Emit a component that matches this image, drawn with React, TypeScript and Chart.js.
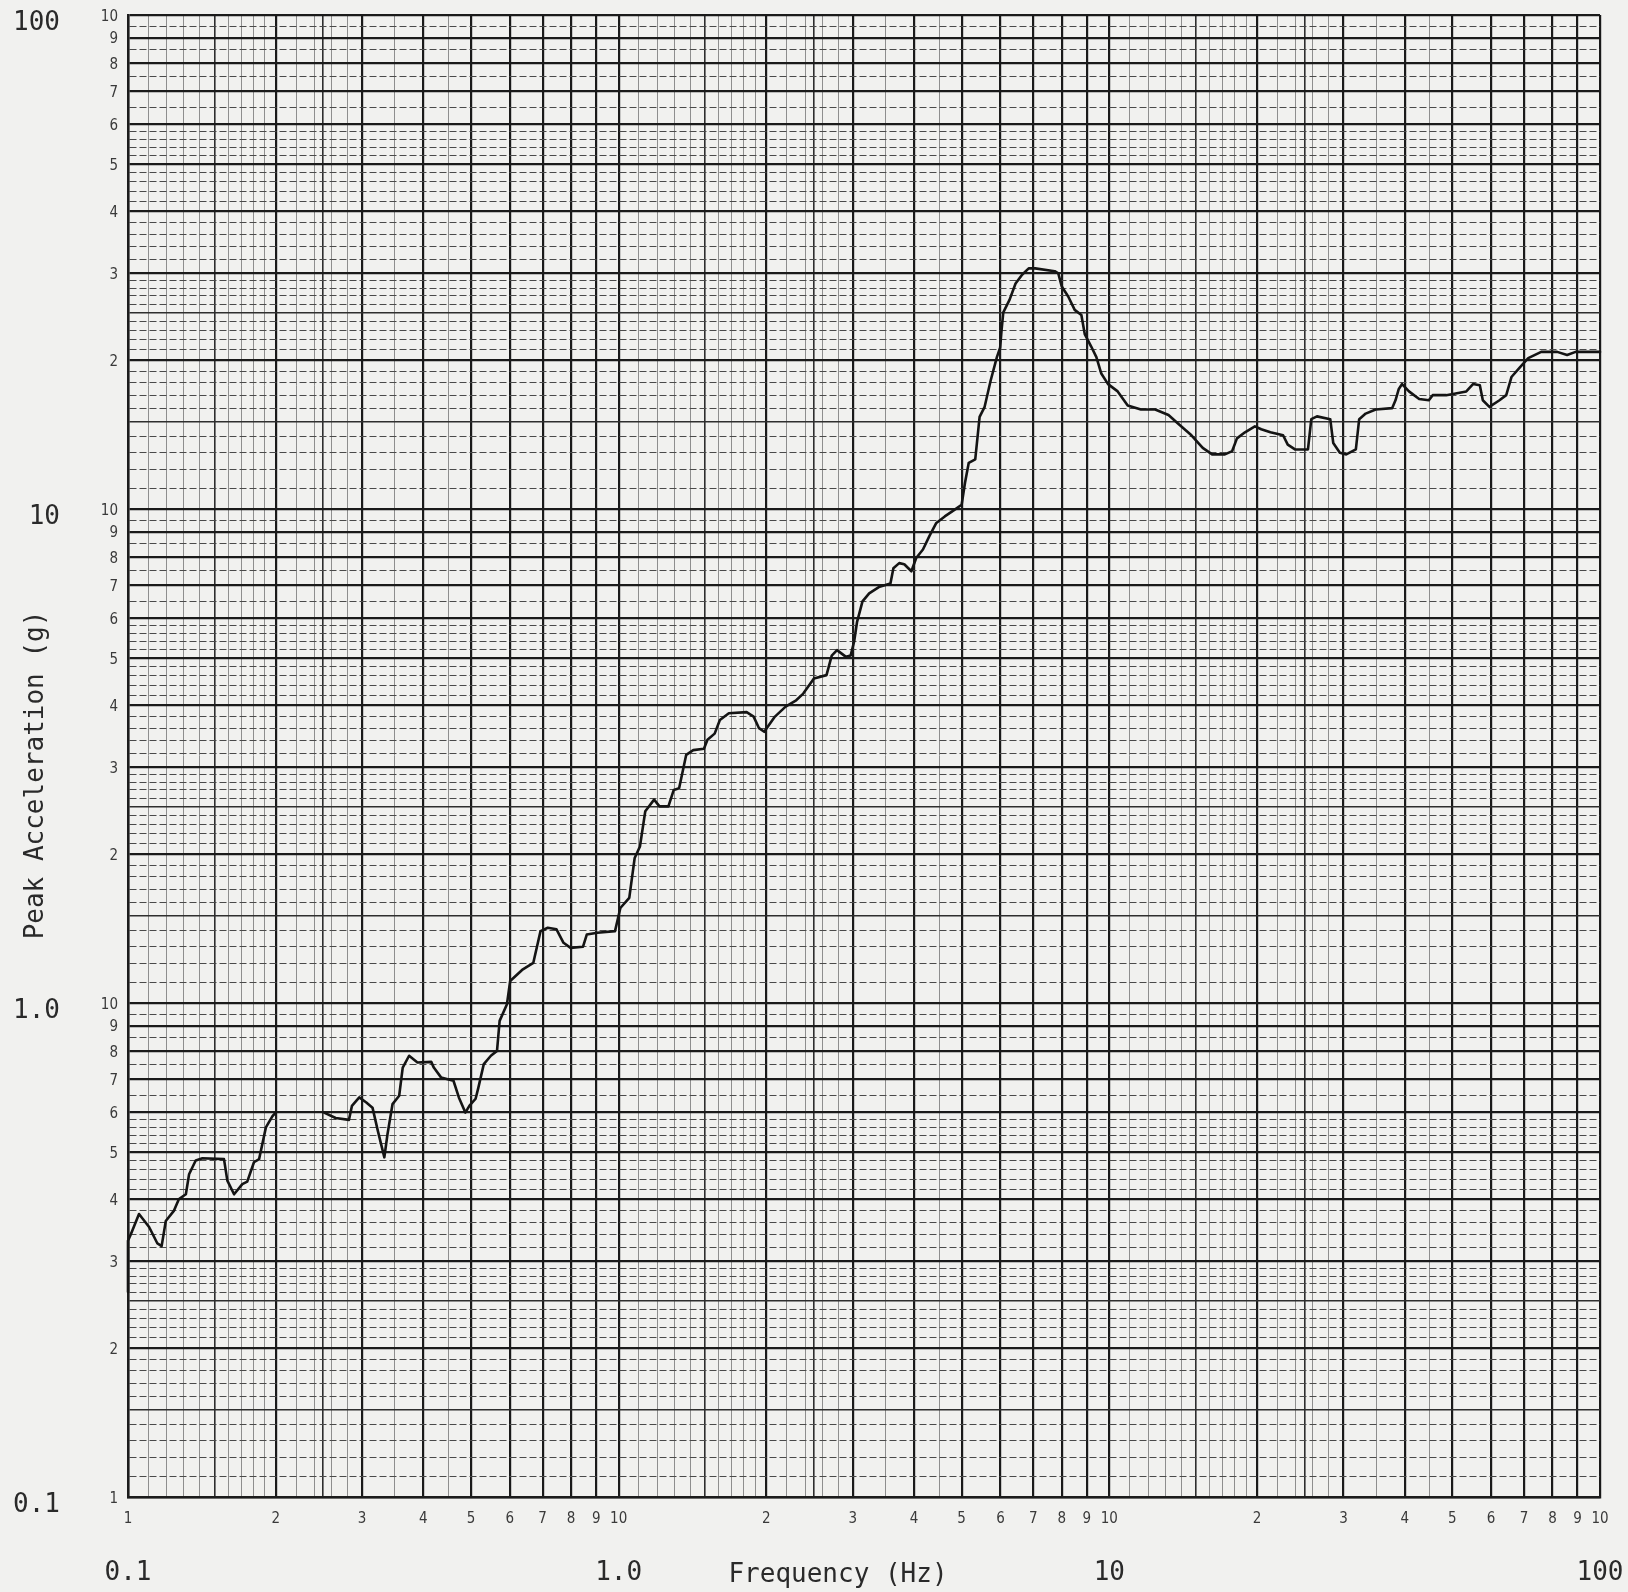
import React, { useEffect, useRef } from "react";
import { Chart, registerables } from "chart.js";

Chart.register(...registerables);

// ---- data (frequency in Hz, peak acceleration in g) ----
const freqHz: number[] = [
  0.1, 0.1, 0.1013, 0.1053, 0.1104, 0.1148, 0.1171, 0.1194, 0.1241, 0.127,
  0.1312, 0.1332, 0.1374, 0.1418, 0.1569, 0.1594, 0.1645, 0.171, 0.175, 0.1806,
  0.185, 0.1879, 0.191, 0.197, 0.2, 0.225, 0.251, 0.265, 0.282, 0.286,
  0.296, 0.306, 0.315, 0.323, 0.333, 0.338, 0.346, 0.357, 0.363, 0.374,
  0.389, 0.415, 0.42, 0.4345, 0.4606, 0.4724, 0.487, 0.4966, 0.511, 0.5177,
  0.531, 0.549, 0.565, 0.572, 0.592, 0.601, 0.638, 0.67, 0.693, 0.717,
  0.747, 0.772, 0.798, 0.846, 0.861, 0.905, 0.983, 1.008, 1.051, 1.078,
  1.105, 1.133, 1.181, 1.211, 1.263, 1.295, 1.328, 1.373, 1.419, 1.492,
  1.517, 1.569, 1.608, 1.677, 1.823, 1.884, 1.932, 1.98, 2.082, 2.189,
  2.3, 2.378, 2.5, 2.652, 2.718, 2.786, 2.906, 2.97, 3.02, 3.06,
  3.14, 3.24, 3.39, 3.58, 3.63, 3.73, 3.82, 3.95, 4.04, 4.17,
  4.3, 4.44, 4.62, 4.85, 5.0, 5.08, 5.17, 5.33, 5.44, 5.57,
  5.73, 5.9, 5.99, 6.03, 6.08, 6.26, 6.44, 6.64, 6.85, 7.06,
  7.74, 7.87, 8.0, 8.25, 8.5, 8.77, 8.91, 9.19, 9.41, 9.63,
  9.94, 10.4, 10.9, 11.6, 12.4, 13.2, 13.8, 14.7, 15.5, 16.2,
  17.2, 17.8, 18.2, 18.9, 19.8, 20.4, 21.3, 22.6, 23.1, 23.9,
  25.4, 25.8, 26.5, 28.2, 28.6, 29.5, 30.4, 31.8, 32.3, 33.3,
  34.9, 37.7, 38.3, 38.9, 39.5, 40.8, 42.8, 44.8, 45.6, 48.6,
  53.4, 55.1, 56.9, 57.7, 59.5, 62.4, 64.4, 66.0, 68.8, 71.4,
  75.9, 81.8, 85.7, 89.2, 100, 108,
];
const peakAccelG: (number | null)[] = [
  0.26, 0.33, 0.34, 0.374, 0.352, 0.326, 0.322, 0.362, 0.38, 0.401,
  0.41, 0.45, 0.48, 0.485, 0.483, 0.437, 0.41, 0.43, 0.435, 0.476,
  0.483, 0.519, 0.56, 0.59, 0.6, null, 0.6, 0.585, 0.58, 0.619,
  0.644, 0.629, 0.614, 0.551, 0.487, 0.543, 0.624, 0.649, 0.74, 0.782,
  0.758, 0.76, 0.74, 0.707, 0.696, 0.644, 0.6, 0.62, 0.64, 0.674,
  0.752, 0.782, 0.8, 0.92, 0.994, 1.108, 1.17, 1.206, 1.398, 1.42,
  1.41, 1.324, 1.293, 1.3, 1.376, 1.387, 1.398, 1.557, 1.632, 1.966,
  2.074, 2.444, 2.58, 2.5, 2.5, 2.7, 2.72, 3.18, 3.25, 3.27,
  3.41, 3.51, 3.74, 3.86, 3.88, 3.8, 3.6, 3.54, 3.8, 3.98,
  4.1, 4.23, 4.54, 4.61, 5.05, 5.18, 5.02, 5.05, 5.4, 5.9,
  6.5, 6.75, 6.95, 7.07, 7.59, 7.77, 7.73, 7.48, 7.96, 8.28,
  8.82, 9.37, 9.66, 9.98, 10.2, 11.3, 12.4, 12.6, 15.36, 16.1,
  18.2, 20.3, 21.2, 23.0, 25.0, 26.5, 28.6, 29.8, 30.7, 30.7,
  30.3, 30.0, 28.2, 26.9, 25.3, 24.7, 22.6, 21.3, 20.3, 18.8,
  17.9, 17.3, 16.2, 15.9, 15.9, 15.5, 14.9, 14.1, 13.3, 12.9,
  12.9, 13.1, 13.9, 14.3, 14.7, 14.5, 14.3, 14.1, 13.5, 13.2,
  13.2, 15.2, 15.4, 15.2, 13.6, 13.0, 12.9, 13.2, 15.2, 15.6,
  15.9, 16.0, 16.6, 17.5, 17.9, 17.3, 16.7, 16.6, 17.0, 17.0,
  17.3, 17.9, 17.8, 16.6, 16.1, 16.6, 17.0, 18.5, 19.4, 20.2,
  20.8, 20.8, 20.5, 20.8, 20.8, 20.8,
];

// ---- graph paper rulings (mantissas within one decade) ----
const decadeStarts: number[] = [0.1, 1, 10];
const axisMin = 0.1;
const axisMax = 100;
const rowMantissas: number[] = [
  1, 1.1, 1.2, 1.3, 1.4, 1.5, 1.6, 1.7, 1.8, 1.9,
  2, 2.1, 2.2, 2.3, 2.4, 2.5, 2.6, 2.7, 2.8, 2.9,
  3, 3.2, 3.4, 3.6, 3.8, 4, 4.2, 4.4, 4.6, 4.8,
  5, 5.2, 5.4, 5.6, 5.8, 6, 6.5, 7, 7.5, 8, 8.5, 9, 9.5,
];
const colMantissas: number[] = [
  1, 1.1, 1.2, 1.3, 1.4, 1.5, 1.6, 1.7, 1.8, 1.9,
  2, 2.2, 2.4, 2.5, 2.6, 2.8, 3, 3.5, 4, 4.5, 5, 6, 7, 8, 9,
];
const mediumMantissas: number[] = [1.5, 2.5];
const decadeLabelValues: number[] = [0.1, 1, 10, 100];
const decadeLabelsX: string[] = ["0.1", "1.0", "10", "100"];
const decadeLabelsY: string[] = ["0.1", "1.0", "10", "100"];
const xTitle = "Frequency (Hz)";
const yTitle = "Peak Acceleration (g)";

const round6 = (v: number) => Number(v.toPrecision(6));

function buildRulings(mantissas: number[]): number[] {
  const out: number[] = [];
  decadeStarts.forEach((d) => mantissas.forEach((m) => out.push(round6(m * d))));
  out.push(axisMax);
  return out;
}

function mantissaOf(v: number): number {
  const e = Math.floor(Math.log10(v) + 1e-9);
  return round6(v / Math.pow(10, e));
}

function smallLabel(v: number): string {
  const m = mantissaOf(v);
  if (Math.abs(m - Math.round(m)) > 1e-6) return "";
  if (m === 1) return Math.abs(v - axisMin) < 1e-9 ? "1" : "10";
  return String(Math.round(m));
}

type Weight = "heavy" | "medium" | "light";
function weightOf(v: number): Weight {
  const m = mantissaOf(v);
  if (Math.abs(m - Math.round(m)) < 1e-6) return "heavy";
  if (mediumMantissas.some((x) => Math.abs(x - m) < 1e-6)) return "medium";
  return "light";
}

const SMALL_FONT = '"DejaVu Sans Condensed", "Liberation Sans Narrow", "DejaVu Sans", sans-serif';
const BIG_FONT = '"DejaVu Sans Mono", "Liberation Mono", monospace';
const INK = "#1c1c1c";
const PAPER = "#f1f1ef";

const zeroPadding = (s: any) => {
  s.paddingLeft = 0;
  s.paddingRight = 0;
  s.paddingTop = 0;
  s.paddingBottom = 0;
};

function rulingAxis(values: number[], light: { color: string; width: number; dash: number[] }, extra: any) {
  return {
    type: "logarithmic",
    min: axisMin,
    max: axisMax,
    afterBuildTicks: (scale: any) => {
      scale.ticks = values.map((v) => ({ value: v }));
    },
    grid: {
      drawTicks: false,
      color: (ctx: any) => {
        if (!ctx.tick) return INK;
        const w = weightOf(ctx.tick.value);
        return w === "heavy" ? "#1a1a1a" : w === "medium" ? "#2e2e2e" : light.color;
      },
      lineWidth: (ctx: any) => {
        if (!ctx.tick) return 2;
        const w = weightOf(ctx.tick.value);
        return w === "heavy" ? 2.2 : w === "medium" ? 1.6 : light.width;
      },
    },
    border: {
      display: true,
      color: INK,
      width: 2.5,
      dash: (ctx: any) => {
        if (!ctx.tick) return [];
        return weightOf(ctx.tick.value) === "light" ? light.dash : [];
      },
    },
    ...extra,
  };
}

function decadeAxis(extra: any) {
  return {
    type: "logarithmic",
    min: axisMin,
    max: axisMax,
    afterBuildTicks: (scale: any) => {
      scale.ticks = decadeLabelValues.map((v) => ({ value: v }));
    },
    grid: { display: false, drawTicks: false, drawOnChartArea: false },
    border: { display: false },
    ...extra,
  };
}

const paperPlugin = {
  id: "paper",
  beforeDraw(chart: any) {
    const { ctx, width, height } = chart;
    ctx.save();
    ctx.fillStyle = PAPER;
    ctx.fillRect(0, 0, width, height);
    ctx.restore();
  },
};

const titlesPlugin = {
  id: "titles",
  afterDraw(chart: any) {
    const { ctx } = chart;
    ctx.save();
    ctx.font = `26px ${BIG_FONT}`;
    ctx.fillStyle = "#2a2a2a";
    ctx.textAlign = "center";
    ctx.textBaseline = "middle";
    ctx.fillText(xTitle, 838, 1575);
    ctx.translate(36, 775);
    ctx.rotate(-Math.PI / 2);
    ctx.fillText(yTitle, 0, 0);
    ctx.restore();
  },
};

const decadeLabel = (labels: string[]) => (value: any) => {
  const i = decadeLabelValues.findIndex((d) => Math.abs(d - Number(value)) < 1e-9);
  return i >= 0 ? labels[i] : "";
};

export default function App() {
  const ref = useRef<HTMLCanvasElement | null>(null);

  useEffect(() => {
    const canvas = ref.current;
    if (!canvas) return;
    const points = freqHz.map((f, i) => ({ x: f, y: peakAccelG[i] }));
    const chart = new Chart(canvas, {
      type: "scatter",
      data: {
        datasets: [
          {
            data: points as any,
            showLine: true,
            borderColor: "#141414",
            borderWidth: 2.6,
            pointRadius: 0,
            pointHoverRadius: 0,
            tension: 0,
            spanGaps: false,
            clip: false as any,
            borderJoinStyle: "round",
            borderCapStyle: "round",
          } as any,
        ],
      },
      options: {
        animation: false,
        responsive: false,
        maintainAspectRatio: false,
        events: [],
        layout: { padding: { left: 0, top: 15, right: 28, bottom: 0 } },
        plugins: {
          legend: { display: false },
          tooltip: { enabled: false },
          title: { display: false },
        },
        scales: {
          x: rulingAxis(buildRulings(colMantissas), { color: "#8e8e8e", width: 1, dash: [] }, {
            position: "bottom",
            weight: 0,
            afterFit: (s: any) => {
              s.height = 35;
              zeroPadding(s);
            },
            ticks: {
              autoSkip: false,
              maxRotation: 0,
              minRotation: 0,
              padding: 13,
              color: "#3a3a3a",
              font: { family: SMALL_FONT, size: 15 },
              callback: (value: any) => smallLabel(Number(value)),
            },
          }),
          x2: decadeAxis({
            position: "bottom",
            axis: "x",
            weight: 1,
            afterFit: (s: any) => {
              s.height = 60;
              zeroPadding(s);
            },
            ticks: {
              autoSkip: false,
              maxRotation: 0,
              minRotation: 0,
              padding: 26,
              color: "#2a2a2a",
              font: { family: BIG_FONT, size: 26 },
              callback: decadeLabel(decadeLabelsX),
            },
          }),
          y: rulingAxis(buildRulings(rowMantissas), { color: "#4a4a4a", width: 1, dash: [7, 3] }, {
            position: "left",
            weight: 0,
            afterFit: (s: any) => {
              s.width = 60;
              zeroPadding(s);
            },
            ticks: {
              autoSkip: false,
              padding: 10,
              labelOffset: 2,
              color: "#3a3a3a",
              font: { family: SMALL_FONT, size: 15 },
              callback: (value: any) => smallLabel(Number(value)),
            },
          }),
          y2: decadeAxis({
            position: "left",
            axis: "y",
            weight: 1,
            afterFit: (s: any) => {
              s.width = 68;
              zeroPadding(s);
            },
            ticks: {
              autoSkip: false,
              padding: 8,
              labelOffset: 8,
              color: "#2a2a2a",
              font: { family: BIG_FONT, size: 26 },
              callback: decadeLabel(decadeLabelsY),
            },
          }),
        } as any,
      },
      plugins: [paperPlugin, titlesPlugin],
    });
    return () => chart.destroy();
  }, []);

  return (
    <div style={{ position: "absolute", left: 0, top: 0, width: 1628, height: 1592 }}>
      <canvas ref={ref} width={1628} height={1592} style={{ display: "block", width: 1628, height: 1592 }} />
    </div>
  );
}
